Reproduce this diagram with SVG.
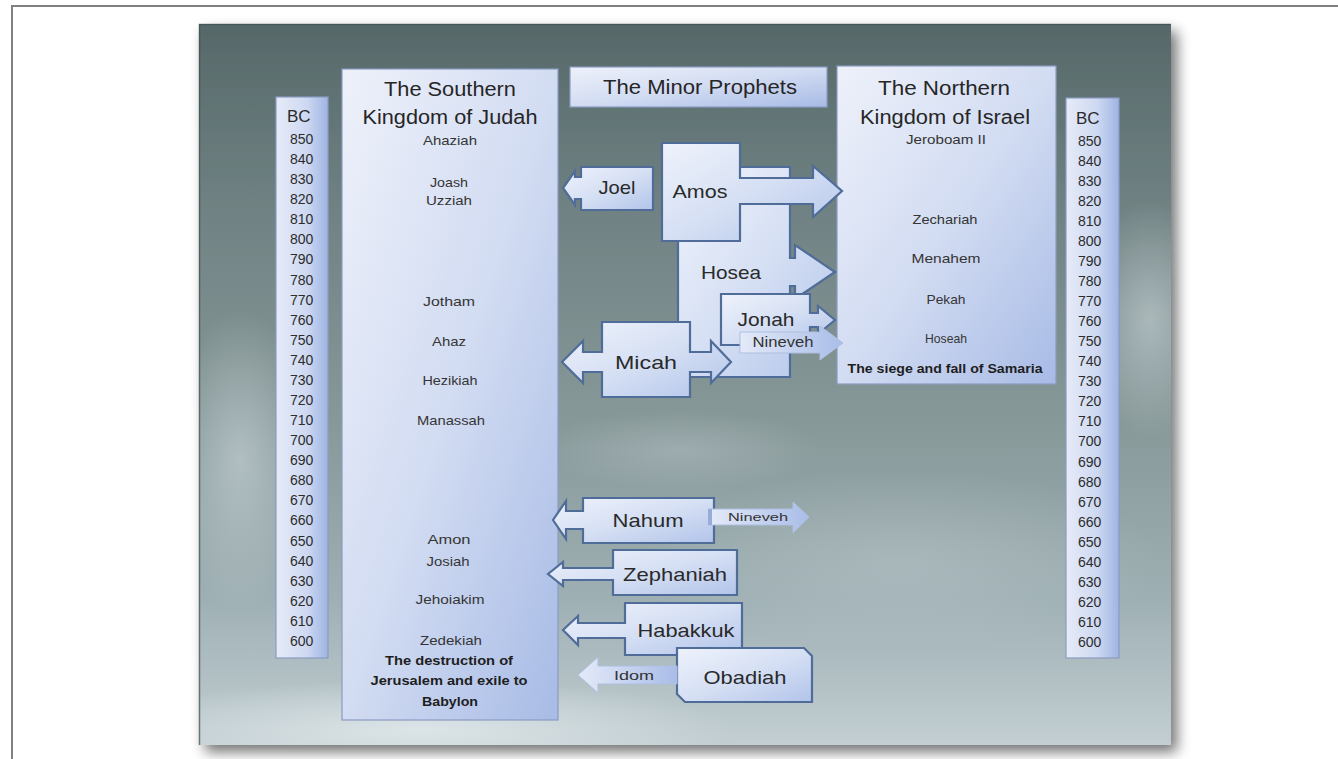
<svg xmlns="http://www.w3.org/2000/svg" width="1338" height="759" viewBox="0 0 1338 759">
<defs>
<style>
text{font-family:"Liberation Sans",Arial,sans-serif;fill:#333;}
.t{text-anchor:middle;}
.title{font-size:20px;fill:#262626;text-anchor:middle;}
.name{font-size:13px;fill:#353535;text-anchor:middle;}
.bold{font-size:13px;font-weight:bold;fill:#1e1e1e;text-anchor:middle;}
.num{font-size:14px;fill:#2c2c2c;}
.bc{font-size:17px;fill:#2a2a2a;}
.pro{font-size:19px;fill:#2a2a2a;text-anchor:middle;}
.box{fill:url(#boxGrad);stroke:#8a9cc2;stroke-width:1.2;}
.col{fill:url(#colGrad);stroke:#8a9cc2;stroke-width:1.2;}
.call{fill:url(#callGrad);stroke:#4f6d98;stroke-width:2.2;stroke-linejoin:miter;}
.light{fill:url(#lightGrad);stroke:#aebfe0;stroke-width:1;}
</style>
<linearGradient id="bg" x1="0" y1="0" x2="0" y2="1">
<stop offset="0" stop-color="#566869"/>
<stop offset="0.25" stop-color="#6f8182"/>
<stop offset="0.55" stop-color="#879899"/>
<stop offset="0.8" stop-color="#9fb0b4"/>
<stop offset="1" stop-color="#c2ced2"/>
</linearGradient>
<radialGradient id="cloud1" cx="0.5" cy="0.5" r="0.5">
<stop offset="0" stop-color="#c9d5d8" stop-opacity="0.6"/>
<stop offset="1" stop-color="#c9d5d8" stop-opacity="0"/>
</radialGradient>
<radialGradient id="cloud2" cx="0.5" cy="0.5" r="0.5">
<stop offset="0" stop-color="#dfe7ea" stop-opacity="0.9"/>
<stop offset="1" stop-color="#dfe7ea" stop-opacity="0"/>
</radialGradient>
<linearGradient id="boxGrad" x1="0" y1="0" x2="1" y2="1">
<stop offset="0" stop-color="#eef1fa"/>
<stop offset="0.5" stop-color="#d2dcf2"/>
<stop offset="1" stop-color="#a8bbe6"/>
</linearGradient>
<linearGradient id="colGrad" x1="0" y1="0" x2="1" y2="0">
<stop offset="0" stop-color="#e6ebf8"/>
<stop offset="0.6" stop-color="#cdd8f1"/>
<stop offset="1" stop-color="#9fb4e3"/>
</linearGradient>
<linearGradient id="callGrad" x1="0" y1="0" x2="1" y2="1">
<stop offset="0" stop-color="#eef2fb"/>
<stop offset="0.5" stop-color="#d6e0f4"/>
<stop offset="1" stop-color="#b2c4ea"/>
</linearGradient>
<linearGradient id="lightGrad" x1="0" y1="0" x2="1" y2="0">
<stop offset="0" stop-color="#e4eaf8"/>
<stop offset="1" stop-color="#a9bde8"/>
</linearGradient>
<filter id="shadow" x="-5%" y="-5%" width="115%" height="115%">
<feGaussianBlur in="SourceAlpha" stdDeviation="7"/>
<feOffset dx="6" dy="7"/>
<feComponentTransfer><feFuncA type="linear" slope="0.55"/></feComponentTransfer>
<feMerge><feMergeNode/><feMergeNode in="SourceGraphic"/></feMerge>
</filter>
<clipPath id="slideClip"><rect x="199" y="24" width="972" height="721"/></clipPath>
</defs>

<rect x="0" y="0" width="1338" height="759" fill="#ffffff"/>
<path d="M12,759 V6 H1338" fill="none" stroke="#808080" stroke-width="2"/>

<g id="slide">
<rect x="199" y="24" width="972" height="721" fill="url(#bg)" filter="url(#shadow)"/>
<g clip-path="url(#slideClip)">
<ellipse cx="240" cy="460" rx="70" ry="150" fill="url(#cloud1)"/>
<ellipse cx="1150" cy="320" rx="70" ry="120" fill="url(#cloud1)"/>
<ellipse cx="420" cy="730" rx="320" ry="50" fill="url(#cloud2)"/>
<ellipse cx="900" cy="560" rx="260" ry="90" fill="url(#cloud1)" opacity="0.5"/>
<ellipse cx="680" cy="450" rx="140" ry="40" fill="url(#cloud1)" opacity="0.5"/>
</g>
<path d="M199.5,745 V24.5 H1171" fill="none" stroke="#3e4f52" stroke-width="1.5" opacity="0.7"/>
</g>

<g id="bc-left">
<rect class="col" x="276" y="97" width="52" height="561"/>
<text class="bc" x="287" y="122">BC</text>
<text class="num" x="290" y="144">850</text>
<text class="num" x="290" y="164">840</text>
<text class="num" x="290" y="184">830</text>
<text class="num" x="290" y="204">820</text>
<text class="num" x="290" y="224">810</text>
<text class="num" x="290" y="244">800</text>
<text class="num" x="290" y="264">790</text>
<text class="num" x="290" y="285">780</text>
<text class="num" x="290" y="305">770</text>
<text class="num" x="290" y="325">760</text>
<text class="num" x="290" y="345">750</text>
<text class="num" x="290" y="365">740</text>
<text class="num" x="290" y="385">730</text>
<text class="num" x="290" y="405">720</text>
<text class="num" x="290" y="425">710</text>
<text class="num" x="290" y="445">700</text>
<text class="num" x="290" y="465">690</text>
<text class="num" x="290" y="485">680</text>
<text class="num" x="290" y="505">670</text>
<text class="num" x="290" y="525">660</text>
<text class="num" x="290" y="546">650</text>
<text class="num" x="290" y="566">640</text>
<text class="num" x="290" y="586">630</text>
<text class="num" x="290" y="606">620</text>
<text class="num" x="290" y="626">610</text>
<text class="num" x="290" y="646">600</text>
</g>

<g id="judah">
<rect class="box" x="342" y="69" width="216" height="651"/>
<text class="title" x="450" y="96" textLength="132" lengthAdjust="spacingAndGlyphs">The Southern</text>
<text class="title" x="450" y="124" textLength="175" lengthAdjust="spacingAndGlyphs">Kingdom of Judah</text>
<text class="name" x="450" y="145" textLength="54" lengthAdjust="spacingAndGlyphs">Ahaziah</text>
<text class="name" x="449" y="187" textLength="38" lengthAdjust="spacingAndGlyphs">Joash</text>
<text class="name" x="449" y="205" textLength="46" lengthAdjust="spacingAndGlyphs">Uzziah</text>
<text class="name" x="449" y="306" textLength="52" lengthAdjust="spacingAndGlyphs">Jotham</text>
<text class="name" x="449" y="346" textLength="34" lengthAdjust="spacingAndGlyphs">Ahaz</text>
<text class="name" x="450" y="385" textLength="55" lengthAdjust="spacingAndGlyphs">Hezikiah</text>
<text class="name" x="451" y="425" textLength="68" lengthAdjust="spacingAndGlyphs">Manassah</text>
<text class="name" x="449" y="544" textLength="43" lengthAdjust="spacingAndGlyphs">Amon</text>
<text class="name" x="448" y="566" textLength="43" lengthAdjust="spacingAndGlyphs">Josiah</text>
<text class="name" x="450" y="604" textLength="69" lengthAdjust="spacingAndGlyphs">Jehoiakim</text>
<text class="name" x="451" y="645" textLength="62" lengthAdjust="spacingAndGlyphs">Zedekiah</text>
<text class="bold" x="449" y="665" textLength="128" lengthAdjust="spacingAndGlyphs">The destruction of</text>
<text class="bold" x="449" y="685" textLength="157" lengthAdjust="spacingAndGlyphs">Jerusalem and exile to</text>
<text class="bold" x="450" y="706" textLength="56" lengthAdjust="spacingAndGlyphs">Babylon</text>
</g>

<g id="minor-prophets-title">
<rect class="box" x="570" y="67" width="257" height="40"/>
<text class="title" x="700" y="94" textLength="194" lengthAdjust="spacingAndGlyphs">The Minor Prophets</text>
</g>

<g id="israel">
<rect class="box" x="837" y="66" width="219" height="318"/>
<text class="title" x="944" y="95" textLength="132" lengthAdjust="spacingAndGlyphs">The Northern</text>
<text class="title" x="945" y="124" textLength="170" lengthAdjust="spacingAndGlyphs">Kingdom of Israel</text>
<text class="name" x="946" y="144" textLength="80" lengthAdjust="spacingAndGlyphs">Jeroboam II</text>
<text class="name" x="945" y="224" textLength="65" lengthAdjust="spacingAndGlyphs">Zechariah</text>
<text class="name" x="946" y="263" textLength="69" lengthAdjust="spacingAndGlyphs">Menahem</text>
<text class="name" x="946" y="304" textLength="39" lengthAdjust="spacingAndGlyphs">Pekah</text>
<text class="name" x="946" y="343" textLength="42" lengthAdjust="spacingAndGlyphs">Hoseah</text>
<text class="bold" x="945" y="373" textLength="195" lengthAdjust="spacingAndGlyphs">The siege and fall of Samaria</text>
</g>

<g id="bc-right">
<rect class="col" x="1066" y="98" width="53" height="560"/>
<text class="bc" x="1076" y="124">BC</text>
<text class="num" x="1078" y="146">850</text>
<text class="num" x="1078" y="166">840</text>
<text class="num" x="1078" y="186">830</text>
<text class="num" x="1078" y="206">820</text>
<text class="num" x="1078" y="226">810</text>
<text class="num" x="1078" y="246">800</text>
<text class="num" x="1078" y="266">790</text>
<text class="num" x="1078" y="286">780</text>
<text class="num" x="1078" y="306">770</text>
<text class="num" x="1078" y="326">760</text>
<text class="num" x="1078" y="346">750</text>
<text class="num" x="1078" y="366">740</text>
<text class="num" x="1078" y="386">730</text>
<text class="num" x="1078" y="406">720</text>
<text class="num" x="1078" y="426">710</text>
<text class="num" x="1078" y="446">700</text>
<text class="num" x="1078" y="467">690</text>
<text class="num" x="1078" y="487">680</text>
<text class="num" x="1078" y="507">670</text>
<text class="num" x="1078" y="527">660</text>
<text class="num" x="1078" y="547">650</text>
<text class="num" x="1078" y="567">640</text>
<text class="num" x="1078" y="587">630</text>
<text class="num" x="1078" y="607">620</text>
<text class="num" x="1078" y="627">610</text>
<text class="num" x="1078" y="647">600</text>
</g>

<g id="hosea">
<path class="call" d="M678,167 H790 V258 H795 V245 L835,272 L795,299 V286 H790 V377 H678 Z"/>
<text class="pro" x="731" y="279" textLength="60" lengthAdjust="spacingAndGlyphs">Hosea</text>
</g>

<g id="joel">
<path class="call" d="M581,167 H653 V210 H581 V199 H575 V205 L563,188 L575,171 V177 H581 Z"/>
<text class="pro" x="617" y="194" textLength="37" lengthAdjust="spacingAndGlyphs">Joel</text>
</g>

<g id="amos">
<path class="call" d="M662,143 H740 V178 H813 V166 L842,191 L813,217 V204 H740 V241 H662 Z"/>
<text class="pro" x="700" y="198" textLength="55" lengthAdjust="spacingAndGlyphs">Amos</text>
</g>

<g id="jonah">
<path class="call" d="M721,294 H810 V313 H818 V306 L835,320 L818,334 V327 H810 V345 H721 Z"/>
<text class="pro" x="766" y="326" textLength="57" lengthAdjust="spacingAndGlyphs">Jonah</text>
</g>

<g id="micah">
<path class="call" d="M602,322 H690 V352 H711 V341 L731,362 L711,383 V372 H690 V397 H602 V372 H583 V383 L562,362 L583,341 V352 H602 Z"/>
<text class="pro" x="646" y="369" font-size="22" textLength="62" lengthAdjust="spacingAndGlyphs">Micah</text>
</g>

<g id="nahum">
<path class="call" d="M583,498 H714 V543 H583 V529 H566 V539 L553,520 L566,501 V511 H583 Z"/>
<text class="pro" x="648" y="527" textLength="71" lengthAdjust="spacingAndGlyphs">Nahum</text>
</g>

<g id="zephaniah">
<path class="call" d="M613,550 H737 V595 H613 V580 H563 V586 L548,574 L563,562 V568 H613 Z"/>
<text class="pro" x="675" y="581" textLength="104" lengthAdjust="spacingAndGlyphs">Zephaniah</text>
</g>

<g id="habakkuk">
<path class="call" d="M625,603 H742 V655 H625 V638 H578 V645 L563,630 L578,616 V623 H625 Z"/>
<text class="pro" x="686" y="637" textLength="97" lengthAdjust="spacingAndGlyphs">Habakkuk</text>
</g>

<g id="obadiah">
<path class="call" d="M677,648 H804 L812,656 V702 H685 L677,694 Z"/>
<text class="pro" x="745" y="684" font-size="21" textLength="83" lengthAdjust="spacingAndGlyphs">Obadiah</text>
</g>

<g id="connectors">
<path class="light" d="M740,332 H820 V326 L843,343 L820,360 V353 H740 Z"/>
<text class="t" x="783" y="347" font-size="14" fill="#3a3a3a" textLength="61" lengthAdjust="spacingAndGlyphs">Nineveh</text>
<path class="light" d="M709,509 H793 V502 L809,517 L793,533 V525 H709 Z"/>
<rect x="708" y="509" width="4" height="16" fill="#98acd8"/>
<text class="t" x="758" y="521" font-size="11" fill="#4a4a4a" textLength="60" lengthAdjust="spacingAndGlyphs">Nineveh</text>
<path class="light" d="M677,666 H598 V657 L578,675 L598,693 V684 H677 Z"/>
<text class="t" x="634" y="680" font-size="13" fill="#3a3a3a" textLength="40" lengthAdjust="spacingAndGlyphs">Idom</text>
</g>
</svg>
